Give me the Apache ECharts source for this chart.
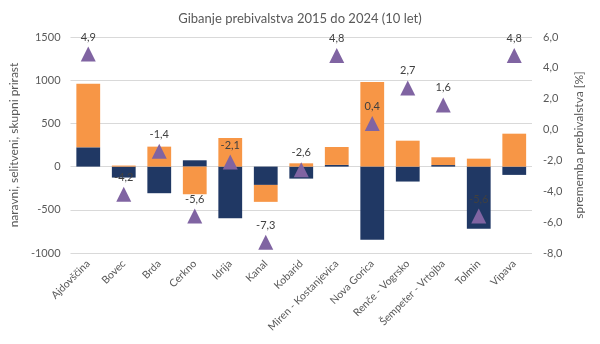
<!DOCTYPE html>
<html>
<head>
<meta charset="utf-8">
<script src="https://cdn.jsdelivr.net/npm/echarts@6/dist/echarts.min.js"></script>
<style>html,body{margin:0;padding:0;background:#fff}#c{width:600px;height:344px}</style>
</head>
<body>
<div id="c"></div>
<script>
const categories = ['Ajdovščina','Bovec','Brda','Cerkno','Idrija','Kanal','Kobarid','Miren - Kostanjevica','Nova Gorica','Renče - Vogrsko','Šempeter - Vrtojba','Tolmin','Vipava'];
const naravni = [223, -127, -308, 73, -597, -212, -139, 20, -848, -173, 18, -720, -96];
const selitveni = [735, 12, 231, -320, 331, -196, 38, 207, 978, 300, 90, 92, 381];
const sprememba = [4.9, -4.2, -1.4, -5.6, -2.1, -7.3, -2.6, 4.8, 0.4, 2.7, 1.6, -5.6, 4.8];
const titleText = 'Gibanje prebivalstva 2015 do 2024 (10 let)';
const leftAxisName = 'naravni, selitveni, skupni prirast';
const rightAxisName = 'sprememba prebivalstva [%]';

const FONT = 'Lato';
const TXT = '#595959';
const fmt = v => v.toFixed(1).replace('.', ',');

const chart = echarts.init(document.getElementById('c'), null, {renderer: 'canvas'});
chart.setOption({
  animation: false,
  textStyle: {fontFamily: FONT},
  title: {
    text: titleText, left: 'center', top: 7,
    textStyle: {fontFamily: FONT, fontSize: 13, fontWeight: 'normal', color: TXT}
  },
  grid: {left: 55, right: 68, top: 37, bottom: 91},
  xAxis: {
    type: 'category', data: categories,
    axisLine: {show: false}, axisTick: {show: false},
    axisLabel: {rotate: 45, fontSize: 10.5, color: TXT, fontFamily: FONT, interval: 0, margin: 9}
  },
  yAxis: [{
    type: 'value', min: -1000, max: 1500, interval: 500,
    name: leftAxisName, nameLocation: 'middle', nameGap: 38, nameRotate: 90,
    nameTextStyle: {fontSize: 12, color: TXT, fontFamily: FONT},
    axisLabel: {fontSize: 11, color: TXT, fontFamily: FONT, margin: 10, formatter: v => String(v)},
    axisLine: {show: false}, axisTick: {show: false},
    splitLine: {lineStyle: {color: '#d9d9d9', width: 1}}
  }, {
    type: 'value', min: -8, max: 6, interval: 2,
    name: rightAxisName, nameLocation: 'middle', nameGap: 38, nameRotate: 90,
    nameTextStyle: {fontSize: 12, color: TXT, fontFamily: FONT},
    axisLabel: {fontSize: 11, color: TXT, fontFamily: FONT, margin: 11, formatter: fmt},
    axisLine: {show: false}, axisTick: {show: false},
    splitLine: {show: false}
  }],
  series: [{
    name: 'naravni prirast', type: 'bar', stack: 's', data: naravni,
    barCategoryGap: '33%',
    itemStyle: {color: '#203864'}
  }, {
    name: 'selitveni prirast', type: 'bar', stack: 's', data: selitveni,
    itemStyle: {color: '#F79646'}
  }, {
    name: 'sprememba prebivalstva', type: 'line', yAxisIndex: 1, data: sprememba,
    symbol: 'triangle', symbolSize: 15,
    lineStyle: {width: 0, opacity: 0},
    itemStyle: {color: '#8064A2'},
    label: {show: true, position: 'top', distance: 4, fontSize: 11, color: '#404040', fontFamily: FONT,
      formatter: p => fmt(p.value)}
  }]
});
</script>
</body>
</html>
